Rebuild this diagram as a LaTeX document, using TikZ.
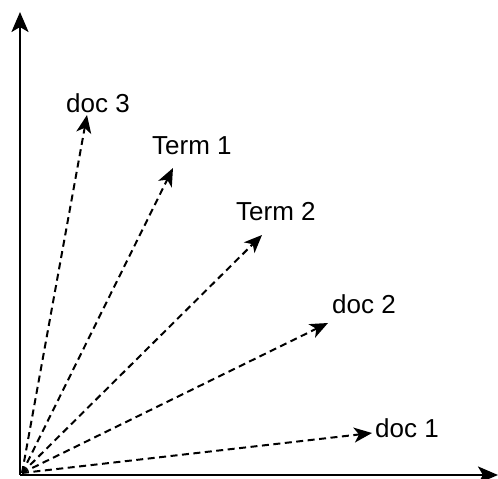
\documentclass[tikz,border=0pt]{standalone}
\usepackage{fontspec}
\setmainfont{Liberation Sans}
\usetikzlibrary{arrows.meta}
\begin{document}
\begin{tikzpicture}[x=1pt,y=1pt,
  axis/.style={line width=2.5pt,-{Stealth[length=20pt,width=17pt,inset=5pt]}},
  vec/.style={line width=2pt,dash pattern=on 7pt off 4.5pt,-{Stealth[length=18pt,width=15pt,inset=5pt,sep=0pt]}},
  lbl/.style={anchor=base west,inner sep=0pt,font=\fontsize{26}{30}\selectfont}]
\useasboundingbox (0,0) rectangle (498,479);
\coordinate (O) at (20,4);
\coordinate (ytip) at (20,467);
\coordinate (xtip) at (498,4);
\draw[axis] (O) -- (ytip);
\draw[axis] (O) -- (xtip);
\coordinate (t1) at (372,46);
\coordinate (t2) at (328,156);
\coordinate (t3) at (262,244);
\coordinate (t4) at (173,311);
\coordinate (t5) at (87,364);
\coordinate (Os) at (22,6);
\draw[vec] (Os) -- (t1);
\draw[vec] (Os) -- (t2);
\draw[vec] (Os) -- (t3);
\draw[vec] (Os) -- (t4);
\draw[vec] (Os) -- (t5);
\node[lbl] (doc1) at (375,41) {doc 1};
\node[lbl] (doc2) at (332,165) {doc 2};
\node[lbl] (term2) at (236,258) {Term 2};
\node[lbl] (term1) at (152,324) {Term 1};
\node[lbl] (doc3) at (66,366) {doc 3};
\end{tikzpicture}
\end{document}
